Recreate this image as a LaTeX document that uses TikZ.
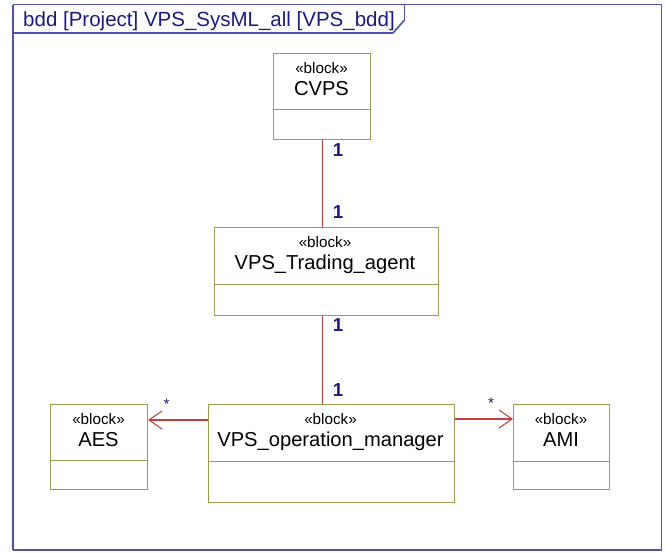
\documentclass[tikz,border=0pt]{standalone}
\usepackage{fontspec}
\setmainfont{Liberation Sans}
\usepackage{color}
\usetikzlibrary{arrows.meta,positioning,shapes.multipart}
\pgfdeclarelayer{edgelayer}
\pgfdeclarelayer{nodelayer}
\pgfsetlayers{edgelayer,nodelayer,main}
\definecolor{boxcol}{RGB}{156,156,80}
\definecolor{linecol}{RGB}{192,64,64}
\definecolor{framecol}{RGB}{80,80,176}
\definecolor{navy}{RGB}{26,26,128}
\newlength{\px}
\setlength{\px}{0.03cm}
\newcommand{\blkpart}[2]{\hbox to #1\px{\vrule height #2\px width 0pt depth 0pt\hfil}}
\tikzstyle{none}=[inner sep=0pt]
\tikzstyle{block}=[rectangle split,rectangle split parts=2,draw=boxcol,fill=white,line width=0.9pt,inner sep=0pt,anchor=north west]
\tikzstyle{stereo}=[inner sep=0pt,anchor=base,font=\fontsize{13}{15}\selectfont]
\tikzstyle{blockname}=[inner sep=0pt,anchor=base,font=\fontsize{17.2}{19}\selectfont]
\tikzstyle{mult}=[inner sep=0pt,text=navy,font=\bfseries\fontsize{16}{18}\selectfont]
\tikzstyle{star}=[inner sep=0pt,text=navy,font=\fontsize{13}{15}\selectfont]
\tikzstyle{assoc}=[-,draw=linecol,line width=0.9pt]
\tikzstyle{directed}=[-{Straight Barb[length=0.39cm,width=0.54cm]},draw=linecol,line width=0.9pt]
\tikzstyle{simple}=[-,draw=framecol,line width=1.4pt]
\tikzset{every picture/.style={line width=0.5pt}}

\begin{document}
\begin{tikzpicture}[x=0.03cm,y=-0.03cm]
	\useasboundingbox (0,0) rectangle (665,552);
	\begin{pgfonlayer}{nodelayer}
		\node [style=block] (cvps) at (273,53) {\blkpart{97}{55}\nodepart{two}\blkpart{97}{29}};
		\node [style=block] (trading) at (214,227) {\blkpart{224}{56}\nodepart{two}\blkpart{224}{30}};
		\node [style=block] (opmgr) at (207.5,404) {\blkpart{246}{56}\nodepart{two}\blkpart{246}{40}};
		\node [style=block] (aes) at (50,404) {\blkpart{97}{55}\nodepart{two}\blkpart{97}{28}};
		\node [style=block] (ami) at (513,404) {\blkpart{96}{56}\nodepart{two}\blkpart{96}{27}};
		\node [style=stereo] (cvpsS) at (321.5,73) {«block»};
		\node [style=blockname] (cvpsN) at (321.5,95) {CVPS};
		\node [style=stereo] (tradingS) at (325,247) {«block»};
		\node [style=blockname] (tradingN) at (325,269) {VPS\_Trading\_agent};
		\node [style=stereo] (opmgrS) at (330.5,424) {«block»};
		\node [style=blockname] (opmgrN) at (330.5,446) {VPS\_operation\_manager};
		\node [style=stereo] (aesS) at (98.5,424) {«block»};
		\node [style=blockname] (aesN) at (98.5,446) {AES};
		\node [style=stereo] (amiS) at (561,424) {«block»};
		\node [style=blockname] (amiN) at (561,446) {AMI};
		\node [style=mult] (m1) at (338,150) {1};
		\node [style=mult] (m2) at (338,212) {1};
		\node [style=mult] (m3) at (338,325) {1};
		\node [style=mult] (m4) at (338,390) {1};
		\node [style=star] (s1) at (166.5,404) {*};
		\node [style=star] (s2) at (491,403) {*};
		\node [style=none,anchor=base west,text=navy,font=\fontsize{17.5}{19}\selectfont] (title) at (23,26.5) {bdd [Project] VPS\_SysML\_all [VPS\_bdd]};
		\node [style=none] (FTL) at (13,4.5) {};
		\node [style=none] (FTR) at (661.5,4.5) {};
		\node [style=none] (FBR) at (661.5,550) {};
		\node [style=none] (FBL) at (13,550) {};
		\node [style=none] (TL) at (13,33) {};
		\node [style=none] (TS) at (393,33) {};
		\node [style=none] (TK) at (404.5,20) {};
		\node [style=none] (TT) at (404.5,4.5) {};
	\end{pgfonlayer}
	\begin{pgfonlayer}{edgelayer}
		\draw [style=simple] (FTL.center) to (FTR.center);
		\draw [style=simple] (FTR.center) to (FBR.center);
		\draw [style=simple] (FBR.center) to (FBL.center);
		\draw [style=simple] (FBL.center) to (FTL.center);
		\draw [style=simple] (TL.center) to (TS.center);
		\draw [style=simple] (TS.center) to (TK.center);
		\draw [style=simple] (TK.center) to (TT.center);
		\draw [style=assoc] (cvps.south) to (cvps.south |- trading.north);
		\draw [style=assoc] (cvps.south |- trading.south) to (cvps.south |- opmgr.north);
		\draw [style=directed] ([yshift=-0.48cm]opmgr.north west) to ([yshift=-0.48cm]aes.north east);
		\draw [style=directed] ([yshift=-0.45cm]opmgr.north east) to ([yshift=-0.45cm]ami.north west);
	\end{pgfonlayer}
\end{tikzpicture}
\end{document}
